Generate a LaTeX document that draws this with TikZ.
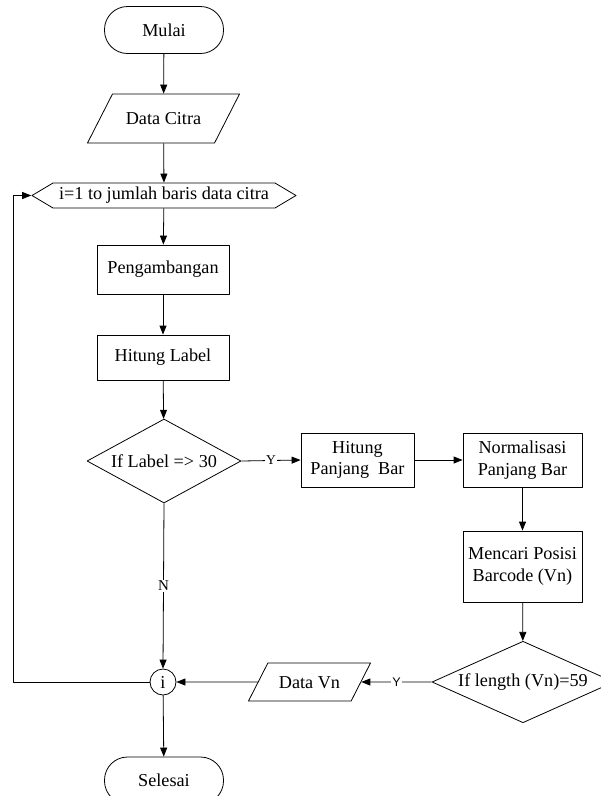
\documentclass[tikz,border=0pt]{standalone}
\usepackage{fontspec}
\setmainfont{Liberation Serif}
\newfontfamily\labelsans{Liberation Sans}
\usetikzlibrary{arrows.meta,shapes.geometric,shapes.symbols,positioning}

\begin{document}
\begin{tikzpicture}[x=1pt,y=-1pt,>={Triangle[length=9pt,width=7pt]},
    line width=0.8pt,line join=round,
    font=\fontsize{18.2}{21.5}\selectfont,
    termbox/.style={draw,rectangle,rounded corners=23pt,inner sep=0pt,
                    minimum width=119pt,minimum height=47pt},
    procbox/.style={draw,rectangle,inner sep=0pt,align=center},
    iobox/.style={draw,trapezium,trapezium left angle=63,trapezium right angle=117,
                  trapezium stretches body=true,inner xsep=0pt,
                  text height=12.5pt,text depth=0pt},
    decbox/.style={draw,diamond,inner sep=0pt,aspect=2},
    loopbox/.style={draw,signal,signal to=west and east,signal pointer angle=61.5,
                    inner sep=0pt,minimum width=264pt,minimum height=25pt},
    joinnode/.style={draw,circle,inner sep=0pt,minimum size=26pt},
    edgelabel/.style={fill=white,inner sep=1.5pt}]
  \useasboundingbox (0,0) rectangle (601,796);
  \clip (0,0) rectangle (601,796);

  % main column
  \node[termbox] (start) at (164,30) {Mulai};
  \node[iobox,inner ysep=18.25pt,minimum width=152pt] (citra) at (163.5,118.5) {Data Citra};
  \node[loopbox] (loop) at (164,195.5) {i=1 to jumlah baris data citra};
  \node[procbox,minimum width=132pt,minimum height=49pt] (thresh) at (163,269.5) {Pengambangan};
  \node[procbox,minimum width=132pt,minimum height=45pt] (label) at (163,357.5) {Hitung Label};
  \node[decbox,minimum width=154pt,minimum height=84pt] (cek) at (164,461) {If Label ={}> 30};
  \node[joinnode] (join) at (163,682) {i};
  \node[termbox] (stop) at (164,780.5) {Selesai};

  % right branch
  \node[procbox,minimum width=113pt,minimum height=54pt] (panjang) at (357.5,460) {Hitung\\Panjang\ \ Bar};
  \node[procbox,minimum width=119pt,minimum height=54pt] (norm) at (522.5,460) {Normalisasi\\Panjang Bar};
  \node[procbox,minimum width=119pt,minimum height=71pt] (posisi) at (522.5,566.5) {Mencari Posisi\\Barcode (Vn)};
  \node[decbox,minimum width=182pt,minimum height=70pt] (cekvn) at (523,682) {If length (Vn)=59};
  \node[iobox,inner ysep=12.75pt,minimum width=122pt] (datavn) at (309.5,682) {Data Vn};

  \coordinate (back) at (13,682);

  % connectors
  \draw[->] (start) -- (citra);
  \draw[->] (citra) -- (loop);
  \draw[->] (loop) -- (thresh);
  \draw[->] (thresh) -- (label);
  \draw[->] (label) -- (cek);
  \draw[->] (cek.east) -- node[edgelabel,font=\fontsize{13.5}{15}\selectfont]{Y} (panjang.west);
  \draw[->] (panjang) -- (norm);
  \draw[->] (norm) -- (posisi);
  \draw[->] (posisi) -- (cekvn);
  \draw[->] (cekvn.west) -- node[edgelabel,font=\labelsans\fontsize{12.5}{14}\selectfont]{Y} (datavn.east);
  \draw[->] (datavn.west) -- (join.east);
  \draw[->] (cek.south) -- node[edgelabel,font=\fontsize{15}{17}\selectfont]{N} (join.north);
  \draw[->] (join) -- (stop);
  \draw[->] (join.west) -- (back) |- (loop.west);
\end{tikzpicture}
\end{document}
